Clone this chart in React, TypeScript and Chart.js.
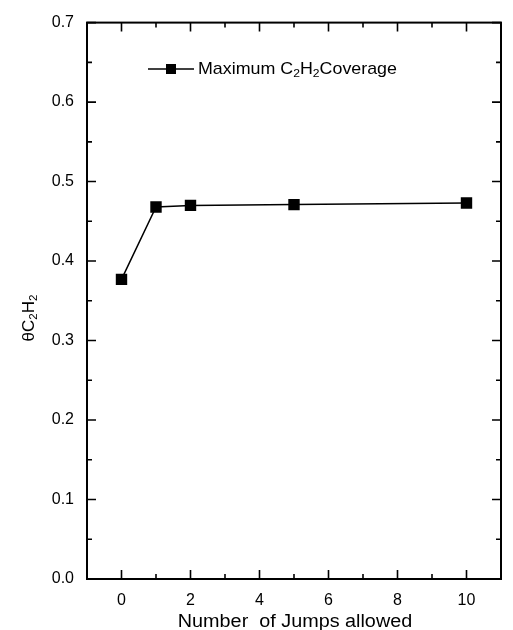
import React, { useEffect, useRef } from "react";
import { Chart, registerables } from "chart.js";

Chart.register(...registerables);

const jumps = [0, 1, 2, 5, 10];
const coverage = [0.377, 0.468, 0.47, 0.471, 0.473];
const seriesLabel = "Maximum C₂H₂Coverage";
const xTitle = "Number  of Jumps allowed";
const xMin = -1;
const xMax = 11;
const yMin = 0;
const yMax = 0.7;

const FONT = "'Liberation Sans', Arial, sans-serif";

type Part = { t: string; sub?: boolean };

function drawSubText(ctx: CanvasRenderingContext2D, parts: Part[], x: number, y: number, size: number) {
  let cx = x;
  for (const p of parts) {
    const s = p.sub ? size * 0.68 : size;
    ctx.font = `${s}px ${FONT}`;
    ctx.fillText(p.t, cx, p.sub ? y + size * 0.28 : y);
    cx += ctx.measureText(p.t).width;
  }
  return cx - x;
}

function measureSub(ctx: CanvasRenderingContext2D, parts: Part[], size: number) {
  let w = 0;
  for (const p of parts) {
    const s = p.sub ? size * 0.68 : size;
    ctx.font = `${s}px ${FONT}`;
    w += ctx.measureText(p.t).width;
  }
  return w;
}

const framePlugin = {
  id: "frame",
  afterDraw(chart: any) {
    const { ctx, chartArea: a, scales } = chart;
    const xs = scales.x;
    const ys = scales.y;
    ctx.save();
    ctx.strokeStyle = "#000";
    ctx.fillStyle = "#000";
    // ticks (inward, all four sides)
    ctx.lineWidth = 1.6;
    for (let v = xMin; v <= xMax; v += 1) {
      const px = xs.getPixelForValue(v);
      const len = v % 2 === 0 ? 9 : 5;
      ctx.beginPath();
      ctx.moveTo(px, a.bottom);
      ctx.lineTo(px, a.bottom - len);
      ctx.moveTo(px, a.top);
      ctx.lineTo(px, a.top + len);
      ctx.stroke();
    }
    for (let i = 0; i <= 14; i++) {
      const v = i * 0.05;
      const py = ys.getPixelForValue(v);
      const len = i % 2 === 0 ? 9 : 5;
      ctx.beginPath();
      ctx.moveTo(a.left, py);
      ctx.lineTo(a.left + len, py);
      ctx.moveTo(a.right, py);
      ctx.lineTo(a.right - len, py);
      ctx.stroke();
    }
    // box
    ctx.lineWidth = 2;
    ctx.strokeRect(a.left, a.top, a.right - a.left, a.bottom - a.top);

    // legend
    const ly = 69;
    ctx.lineWidth = 1.5;
    ctx.beginPath();
    ctx.moveTo(148, ly);
    ctx.lineTo(194, ly);
    ctx.stroke();
    ctx.fillRect(171 - 5, ly - 5, 10, 10);
    ctx.save();
    ctx.translate(198, ly);
    ctx.scale(1.05, 1);
    ctx.textBaseline = "middle";
    ctx.textAlign = "left";
    drawSubText(ctx, [{ t: "Maximum C" }, { t: "2", sub: true }, { t: "H" }, { t: "2", sub: true }, { t: "Coverage" }], 0, 0, 17);
    ctx.restore();

    // x title
    ctx.save();
    ctx.font = `18px ${FONT}`;
    ctx.textAlign = "center";
    ctx.textBaseline = "alphabetic";
    ctx.translate((a.left + a.right) / 2 + 1, 627);
    ctx.scale(1.1, 1);
    ctx.fillText(xTitle, 0, 0);
    ctx.restore();

    // y title rotated
    const yParts: Part[] = [{ t: "θ" }, { t: "C" }, { t: "2", sub: true }, { t: "H" }, { t: "2", sub: true }];
    const w = measureSub(ctx, yParts, 17);
    ctx.translate(29, 318);
    ctx.rotate(-Math.PI / 2);
    ctx.textAlign = "left";
    ctx.textBaseline = "middle";
    drawSubText(ctx, yParts, -w / 2, 0, 17);
    ctx.restore();
  },
};

export default function App() {
  const ref = useRef<HTMLCanvasElement | null>(null);
  useEffect(() => {
    document.body.style.margin = "0";
    const canvas = ref.current!;
    const chart = new Chart(canvas, {
      type: "line",
      data: {
        datasets: [
          {
            label: seriesLabel,
            data: jumps.map((x, i) => ({ x, y: coverage[i] })),
            borderColor: "#000",
            backgroundColor: "#000",
            borderWidth: 1.5,
            pointStyle: "rect",
            pointRadius: 7,
            pointHoverRadius: 7,
            tension: 0,
          },
        ],
      },
      options: {
        responsive: false,
        animation: false,
        devicePixelRatio: 1,
        layout: { padding: { left: 0, right: 1, top: 17, bottom: 0 } },
        plugins: { legend: { display: false }, tooltip: { enabled: false } },
        scales: {
          x: {
            type: "linear",
            min: xMin,
            max: xMax,
            grid: { display: false, drawTicks: false },
            border: { display: false },
            ticks: {
              stepSize: 1,
              autoSkip: false,
              maxRotation: 0,
              padding: 12,
              color: "#000",
              font: { family: FONT, size: 16 },
              callback: (v: any) => (v >= 0 && v <= 10 && v % 2 === 0 ? String(v) : ""),
            },
            afterFit: (s: any) => {
              s.height = 51;
            },
          },
          y: {
            min: yMin,
            max: yMax,
            grid: { display: false, drawTicks: false },
            border: { display: false },
            ticks: {
              stepSize: 0.1,
              padding: 13,
              color: "#000",
              font: { family: FONT, size: 16 },
              callback: (v: any) => Number(v).toFixed(1),
            },
            afterFit: (s: any) => {
              s.width = 87;
            },
          },
        },
      },
      plugins: [framePlugin],
    } as any);
    return () => chart.destroy();
  }, []);
  return (
    <div style={{ width: 513, height: 630, background: "#fff" }}>
      <canvas ref={ref} width={513} height={630} style={{ display: "block" }} />
    </div>
  );
}
